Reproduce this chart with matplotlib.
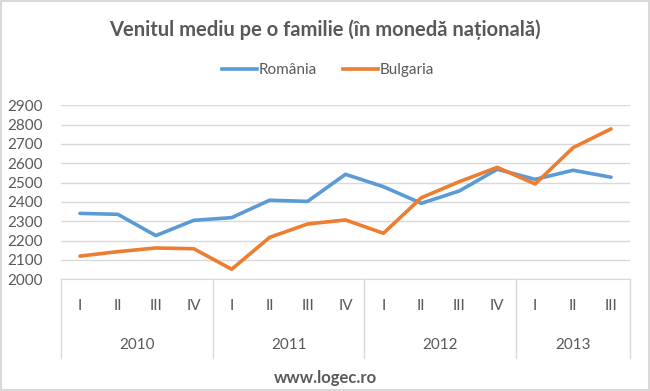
import matplotlib.pyplot as plt
from matplotlib.patches import Rectangle
from matplotlib.lines import Line2D

years = ["2010", "2011", "2012", "2013"]
quarters = ["I", "II", "III", "IV", "I", "II", "III", "IV",
            "I", "II", "III", "IV", "I", "II", "III"]
romania = [2341, 2336, 2226, 2305, 2319, 2409, 2403, 2543,
           2479, 2393, 2457, 2569, 2517, 2564, 2528]
bulgaria = [2120, 2143, 2162, 2158, 2052, 2217, 2286, 2307,
            2238, 2422, 2505, 2579, 2493, 2681, 2778]
year_sizes = [4, 4, 4, 3]

plt.rcParams['font.family'] = ['Lato', 'DejaVu Sans']
txt = '#595959'
grid = '#D9D9D9'

fig = plt.figure(figsize=(6.5, 3.91), dpi=100)
ax = fig.add_axes([61/650, 1 - 279.3/391, 569/650, 174/391])

x = list(range(len(quarters)))
ax.plot(x, romania, color='#5B9BD5', lw=2.6, solid_capstyle='round', label='România')
ax.plot(x, bulgaria, color='#ED7D31', lw=2.6, solid_capstyle='round', label='Bulgaria')

ax.set_xlim(-0.5, len(quarters) - 0.5)
ax.set_ylim(2000, 2900)
ax.set_yticks(range(2000, 2901, 100))
ax.yaxis.grid(True, color=grid, lw=1)
ax.set_axisbelow(True)
ax.set_xticks([])
ax.tick_params(axis='y', length=0, pad=13, labelsize=11, labelcolor=txt)
for s in ['top', 'right', 'left']:
    ax.spines[s].set_visible(False)
ax.spines['bottom'].set_color(grid)

# two-level category axis
for i, q in enumerate(quarters):
    ax.text(i, -0.152, q, transform=ax.get_xaxis_transform(), ha='center', va='center',
            fontsize=11, color=txt)
start = -0.5
bounds = [start]
for y, n in zip(years, year_sizes):
    ax.text(start + n / 2, -0.377, y, transform=ax.get_xaxis_transform(), ha='center',
            va='center', fontsize=11, color=txt)
    start += n
    bounds.append(start)
for b in bounds:
    ax.plot([b, b], [0, -0.454], transform=ax.get_xaxis_transform(), color=grid,
            lw=1, clip_on=False)

fig.text(0.5, 1 - 30/391, "Venitul mediu pe o familie (în monedă națională)", ha='center',
         va='center', fontsize=14.5, fontweight='bold', color=txt)
fig.text(0.5, 1 - 377.5/391, "www.logec.ro", ha='center', va='center', fontsize=12,
         fontweight='bold', color=txt)

handles = [Line2D([], [], color='#5B9BD5', lw=2.6), Line2D([], [], color='#ED7D31', lw=2.6)]
fig.legend(handles, ['România', 'Bulgaria'], loc='center', bbox_to_anchor=(0.505, 1 - 70/391),
           ncol=2, frameon=False, fontsize=11, labelcolor=txt, handlelength=2.3,
           handletextpad=0.1, columnspacing=1.7)

fig.add_artist(Rectangle((0.002, 0.003), 0.996, 0.994, transform=fig.transFigure,
                         fill=False, edgecolor=grid, lw=1.5))

fig.savefig("out.png", dpi=100, facecolor='white')
